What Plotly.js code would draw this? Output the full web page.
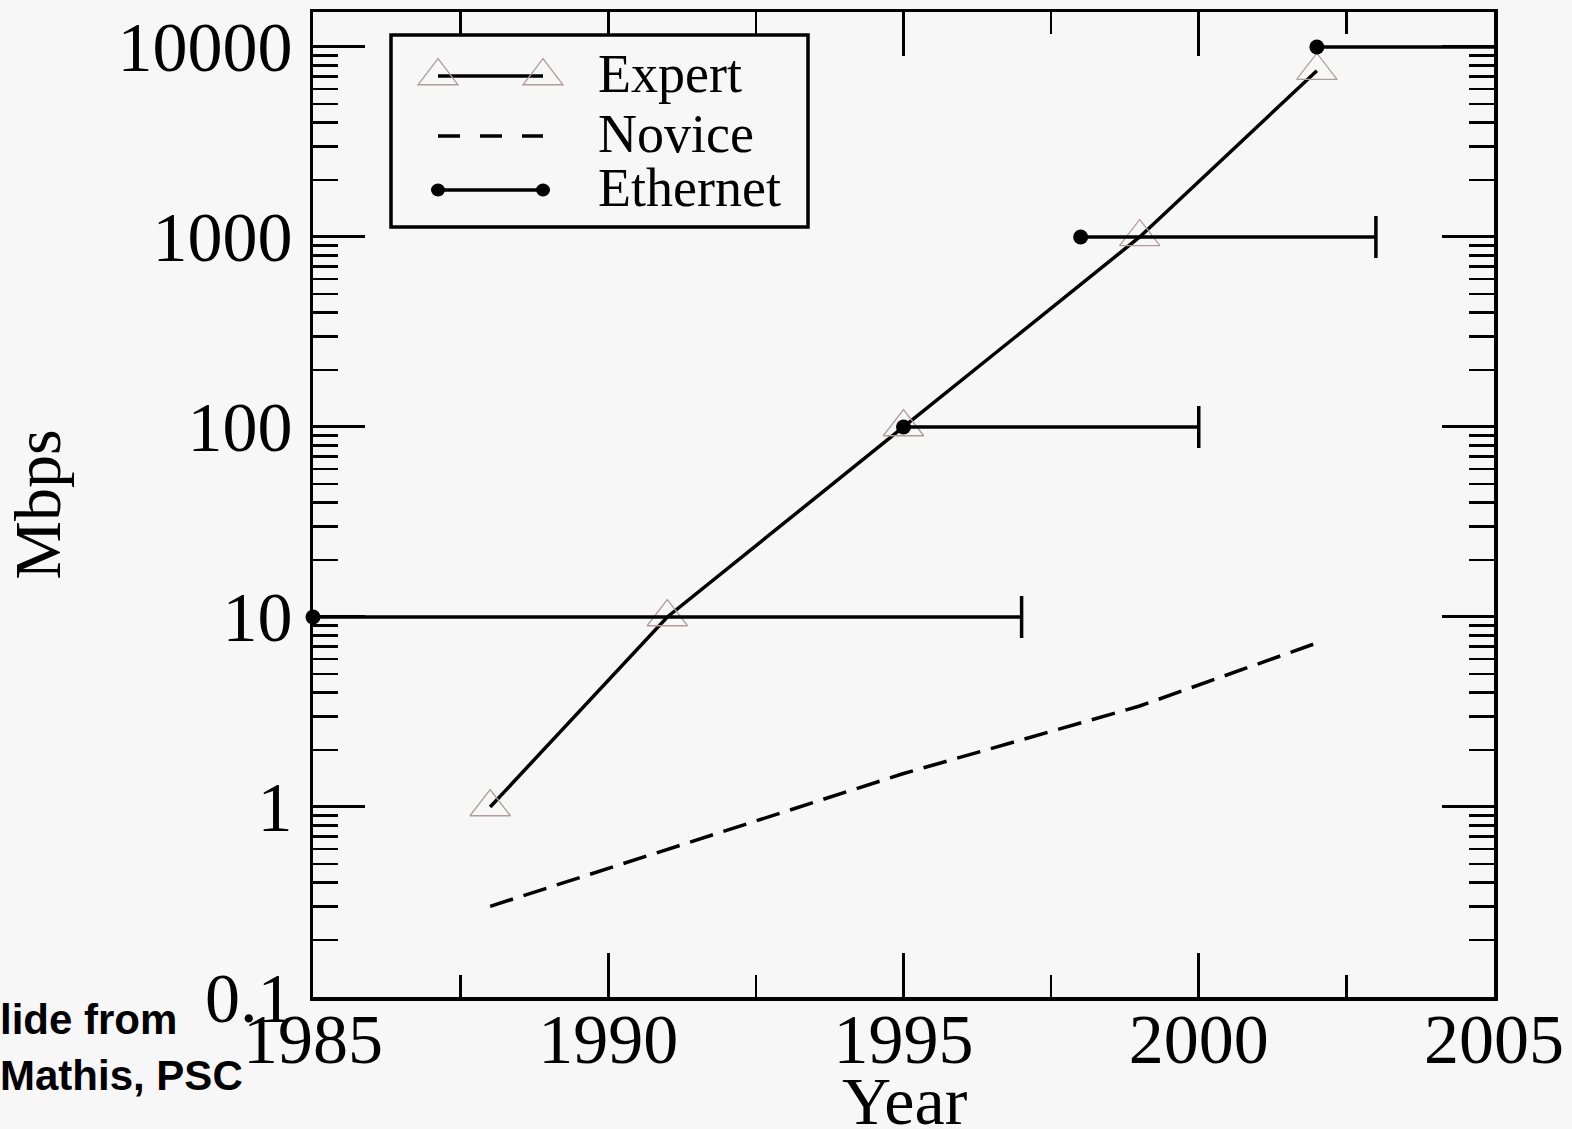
<!DOCTYPE html>
<html><head><meta charset="utf-8">
<script src="https://cdn.plot.ly/plotly-3.0.1.min.js"></script>
<style>html,body{margin:0;padding:0;background:#f7f7f7;} #chart{width:1572px;height:1129px;}</style>
</head><body><div id="chart"></div>
<script>
// ---- data ----
const expertYears = [1988, 1991, 1995, 1999, 2002];
const expertMbps = [1, 10, 100, 1000, 7500];
const noviceYears = [1988, 1991, 1995, 1999, 2002];
const noviceMbps = [0.3, 0.6, 1.5, 3.4, 7.3];
const ethernetStart = [1985, 1995, 1998, 2002];
const ethernetEnd = [1997, 2000, 2003, 2006];
const ethernetMbps = [10, 100, 1000, 10000];
const xTickVals = [1985, 1990, 1995, 2000, 2005];
const xTickText = ['1985', '1990', '1995', '2000', '2005'];
const yTickVals = [0.1, 1, 10, 100, 1000, 10000];
const yTickText = ['0.1', '1', '10', '100', '1000', '10000'];
const seriesNames = ['Expert', 'Novice', 'Ethernet'];
const creditLines = ['lide from', 'Mathis, PSC'];
const xTitle = 'Year';
const yTitle = 'Mbps';

// ---- styling / geometry ----
const BG = '#f7f7f7';
const SERIF = 'Liberation Serif, Times New Roman, serif';
const SANS = 'Liberation Sans, Arial, sans-serif';
const TRI = '#b09c9c';
const W = 1572, H = 1129, L = 313, R = 1494, T = 12, B = 997;
const px = x => (x - L) / (R - L);
const py = y => (B - y) / (B - T);

// minor log ticks 2..9 per decade
const minorY = [];
yTickVals.forEach(d => { for (let k = 2; k <= 9; k++) minorY.push(k * d); });

// ethernet segments
const ethX = [], ethY = [];
ethernetStart.forEach((s, i) => { ethX.push(s, ethernetEnd[i], null); ethY.push(ethernetMbps[i], ethernetMbps[i], null); });

const traces = [
  { x: expertYears, y: expertMbps, name: seriesNames[0], mode: 'lines+markers',
    line: { color: 'black', width: 3.5 },
    marker: { symbol: 'triangle-up-open', size: 35, color: TRI, line: { color: TRI, width: 1.3 } } },
  { x: noviceYears, y: noviceMbps, name: seriesNames[1], mode: 'lines',
    line: { color: 'black', width: 3.5, dash: '24px,11px' } },
  { x: ethX, y: ethY, name: seriesNames[2], mode: 'lines', connectgaps: false,
    line: { color: 'black', width: 3.5 } },
  { x: ethernetStart, y: ethernetMbps, name: seriesNames[2] + ' start', mode: 'markers', cliponaxis: false,
    marker: { symbol: 'circle', size: 15, color: 'black', line: { width: 0 } } },
  { x: ethernetEnd, y: ethernetMbps, name: seriesNames[2] + ' end', mode: 'markers', cliponaxis: true,
    marker: { symbol: 'line-ns', size: 30, color: 'black', line: { width: 3.5, color: 'black' } } }
];

// custom legend
const legY = [76, 136, 190];
const sx0 = 438, sx1 = 543, textX = 596;
const shapes = [
  { type: 'rect', xref: 'paper', yref: 'paper', x0: px(391), x1: px(808), y0: py(227), y1: py(35),
    fillcolor: BG, line: { color: 'black', width: 3.5 }, layer: 'above' },
  { type: 'line', xref: 'paper', yref: 'paper', x0: px(sx0), x1: px(sx1), y0: py(legY[0]), y1: py(legY[0]),
    line: { color: 'black', width: 3.5 }, layer: 'above' },
  { type: 'line', xref: 'paper', yref: 'paper', x0: px(sx0), x1: px(sx1), y0: py(legY[1]), y1: py(legY[1]),
    line: { color: 'black', width: 3.5, dash: '22px,20px' }, layer: 'above' },
  { type: 'line', xref: 'paper', yref: 'paper', x0: px(sx0), x1: px(sx1), y0: py(legY[2]), y1: py(legY[2]),
    line: { color: 'black', width: 3.5 }, layer: 'above' }
];
[sx0, sx1].forEach(xx => {
  shapes.push({ type: 'path', xref: 'paper', yref: 'paper', xsizemode: 'pixel', ysizemode: 'pixel',
    xanchor: px(xx), yanchor: py(legY[0]), path: 'M -20 -8.75 L 20 -8.75 L 0 17.5 Z',
    line: { color: TRI, width: 1.3 }, layer: 'above' });
  shapes.push({ type: 'circle', xref: 'paper', yref: 'paper', xsizemode: 'pixel', ysizemode: 'pixel',
    xanchor: px(xx), yanchor: py(legY[2]), x0: -7, x1: 7, y0: -6.5, y1: 6.5,
    fillcolor: 'black', line: { color: 'black', width: 0 }, layer: 'above' });
});

const annotations = seriesNames.map((n, i) => ({
  text: n, xref: 'paper', yref: 'paper', x: px(textX), y: py(legY[i] - 2), xanchor: 'left', yanchor: 'middle',
  showarrow: false, font: { family: SERIF, size: 54, color: 'black' }
}));
annotations.push({ text: creditLines[0], xref: 'paper', yref: 'paper', x: px(-2), y: py(1019),
  xanchor: 'left', yanchor: 'middle', showarrow: false, font: { family: SANS, size: 42, color: 'black', weight: 'bold' } });
annotations.push({ text: creditLines[1], xref: 'paper', yref: 'paper', x: px(-2), y: py(1075),
  xanchor: 'left', yanchor: 'middle', showarrow: false, font: { family: SANS, size: 42, color: 'black', weight: 'bold' } });
// x axis title (placed below the margin-constrained title area)
annotations.push({ text: xTitle, xref: 'paper', yref: 'paper', x: px(905), y: py(1101),
  xanchor: 'center', yanchor: 'middle', showarrow: false, font: { family: SERIF, size: 68, color: 'black' } });

const axisCommon = {
  ticks: 'inside', tickwidth: 3, tickcolor: 'black', showline: true, linewidth: 3.5, linecolor: 'black',
  mirror: 'ticks', showgrid: false, zeroline: false, automargin: false,
  tickfont: { family: SERIF, size: 70, color: 'black' }
};

const layout = {
  width: W, height: H,
  margin: { l: L, r: W - R, t: T, b: H - B, pad: 0 },
  paper_bgcolor: BG, plot_bgcolor: BG,
  showlegend: false,
  xaxis: Object.assign({}, axisCommon, {
    range: [1985, 2005], tickmode: 'array', tickvals: xTickVals, ticktext: xTickText, ticklen: 44,
    ticklabelstandoff: -22,
    minor: { dtick: 2.5, tick0: 1985, ticks: 'inside', ticklen: 22, tickwidth: 2.5, tickcolor: 'black', showgrid: false }
  }),
  yaxis: Object.assign({}, axisCommon, {
    type: 'log', range: [-1, 4.184], tickmode: 'array', tickvals: yTickVals, ticktext: yTickText, ticklen: 52,
    ticklabelstandoff: 3,
    minor: { tickmode: 'array', tickvals: minorY, ticks: 'inside', ticklen: 25, tickwidth: 2.5, tickcolor: 'black', showgrid: false },
    title: { text: yTitle, font: { family: SERIF, size: 66, color: 'black' }, standoff: 36 }
  }),
  shapes: shapes,
  annotations: annotations
};

Plotly.newPlot('chart', traces, layout, { displayModeBar: false, staticPlot: true });
</script>
</body></html>
